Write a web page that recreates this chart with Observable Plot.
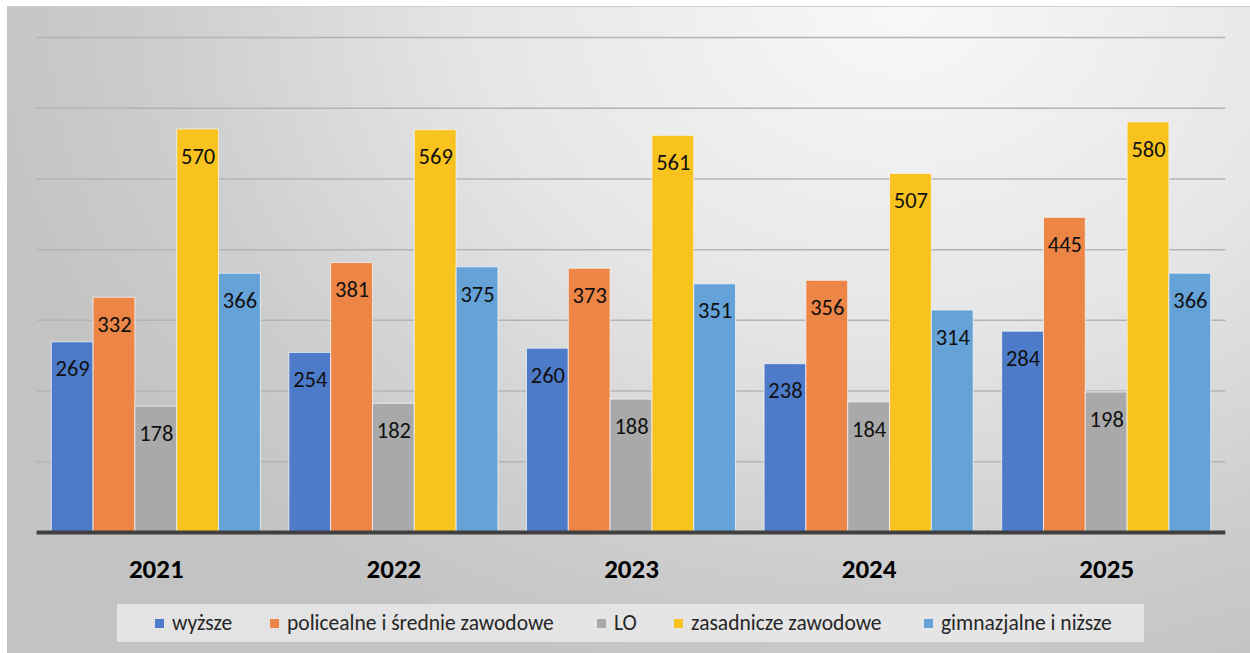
<!DOCTYPE html>
<html>
<head>
<meta charset="utf-8">
<script src="https://cdn.jsdelivr.net/npm/d3@7"></script>
<script src="https://cdn.jsdelivr.net/npm/@observablehq/plot@0.6"></script>
<style>
  html, body { margin: 0; padding: 0; background: #fff; width: 1250px; height: 653px; overflow: hidden; }
  #panel {
    position: absolute; left: 7px; top: 6px; width: 1243px; height: 647px;
    border-top: 1px solid #cfcfcf;
    background: radial-gradient(ellipse 75% 110% at 72% 0%, #f8f8f8 0%, #e6e6e6 45%, #cdcdcd 80%, #c3c3c3 100%);
    font-family: Carlito, "Open Sans", "Noto Sans", sans-serif;
  }
  #chart { position: absolute; left: 0; top: 0; }
  #legend {
    position: absolute; left: 110px; top: 597px; width: 1027px; height: 38px;
    background: rgba(238,238,238,0.75);
  }
  .item { position: absolute; top: 0; height: 38px; display: flex; align-items: center; font-size: 21.5px; color: #262626; white-space: nowrap; }
  .sw { width: 9px; height: 9px; margin-right: 8px; }
</style>
</head>
<body>
<div id="panel">
  <div id="chart"></div>
  <div id="legend"></div>
</div>
<script>
const years = ["2021", "2022", "2023", "2024", "2025"];
const seriesNames = ["wyższe", "policealne i średnie zawodowe", "LO", "zasadnicze zawodowe", "gimnazjalne i niższe"];
const colors = ["#4d7bca", "#ec8546", "#a9a9a9", "#f8c31e", "#65a2d8"];
const wyzsze      = [269, 254, 260, 238, 284];
const policealne  = [332, 381, 373, 356, 445];
const lo          = [178, 182, 188, 184, 198];
const zasadnicze  = [570, 569, 561, 507, 580];
const gimnazjalne = [366, 375, 351, 314, 366];
const gridTicks = [100, 200, 300, 400, 500, 600, 700];

const seriesValues = [wyzsze, policealne, lo, zasadnicze, gimnazjalne];
const data = [];
years.forEach((y, i) => {
  seriesNames.forEach((s, j) => data.push({year: y, series: s, value: seriesValues[j][i]}));
});

const ext = -14.6;
const chart = Plot.plot({
  width: 1243,
  height: 590,
  marginLeft: 30,
  marginRight: 25,
  marginTop: 30,
  marginBottom: 65,
  style: {background: "transparent", fontFamily: "Carlito, 'Open Sans', 'Noto Sans', sans-serif"},
  facet: {data, x: "year"},
  fx: {domain: years, paddingInner: 0.12, paddingOuter: 0.06, round: false, label: null, axis: "bottom", tickSize: 0, tickPadding: 26},
  x: {domain: seriesNames, padding: 0, round: false, axis: null},
  y: {domain: [0, 700], axis: null},
  color: {domain: seriesNames, range: colors},
  marks: [
    Plot.ruleY(gridTicks, {stroke: "#b4b4b4", strokeWidth: 1.5, insetLeft: ext, insetRight: ext}),
    Plot.barY(data, {x: "series", y: "value", fill: "series", stroke: "#f2f2f2", strokeWidth: 1, strokeOpacity: 0.8}),
    Plot.text(data, {x: "series", y: "value", text: d => String(d.value), dy: 27, fontSize: 22.5, fill: "#111"}),
    Plot.ruleY([0], {stroke: "#404040", strokeWidth: 4, insetLeft: ext, insetRight: ext})
  ]
});
chart.querySelectorAll("g[aria-label='fx-axis tick label'], g[aria-label='fx-axis']").forEach(g => {
  g.setAttribute("font-size", "27");
  g.setAttribute("font-weight", "bold");
  g.setAttribute("fill", "#000");
});
chart.querySelectorAll("g[aria-label='fx-axis tick label'] text, g[aria-label='fx-axis'] text").forEach(t => {
  t.setAttribute("font-size", "27");
  t.setAttribute("font-weight", "bold");
  t.setAttribute("fill", "#000");
});
document.getElementById("chart").appendChild(chart);

const legendX = [155, 270, 597, 674, 924];
const legend = document.getElementById("legend");
seriesNames.forEach((s, i) => {
  const it = document.createElement("div");
  it.className = "item";
  it.style.left = (legendX[i] - 117) + "px";
  it.innerHTML = `<span class="sw" style="background:${colors[i]}"></span><span>${s}</span>`;
  legend.appendChild(it);
});
</script>
</body>
</html>
